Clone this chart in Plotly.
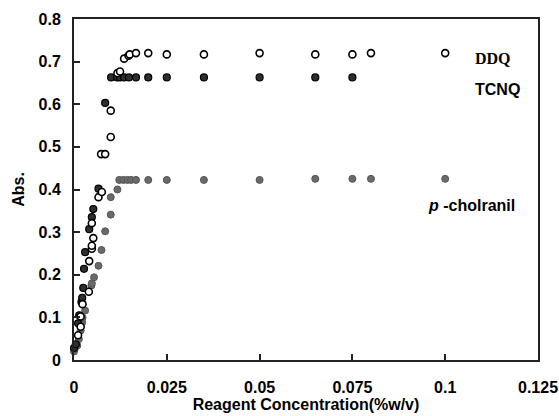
import plotly.graph_objects as go

# DDQ (open circles)
ddq_x = [0.0011, 0.0018, 0.0018, 0.0023, 0.0040, 0.0041, 0.0048, 0.0048, 0.0052, 0.0048,
         0.0066, 0.0075, 0.0073, 0.0084, 0.0099, 0.0099, 0.0117, 0.0124, 0.0135, 0.0147,
         0.0150, 0.0167, 0.020, 0.025, 0.035, 0.05, 0.065, 0.075, 0.08, 0.1]
ddq_y = [0.058, 0.078, 0.102, 0.131, 0.160, 0.232, 0.261, 0.268, 0.286, 0.321,
         0.382, 0.394, 0.483, 0.483, 0.523, 0.585, 0.673, 0.677, 0.707, 0.714,
         0.717, 0.720, 0.720, 0.717, 0.717, 0.720, 0.717, 0.717, 0.720, 0.720]

# TCNQ (filled dark)
tcnq_x = [0.0, 0.0005, 0.0011, 0.0014, 0.0020, 0.0022, 0.0025, 0.0027, 0.0030, 0.0041,
          0.0048, 0.0052, 0.0066, 0.0084, 0.0100, 0.0116, 0.0124, 0.0135, 0.0148, 0.0167,
          0.020, 0.025, 0.035, 0.05, 0.065, 0.075]
tcnq_y = [0.028, 0.037, 0.086, 0.105, 0.136, 0.146, 0.169, 0.214, 0.253, 0.307,
          0.335, 0.354, 0.402, 0.603, 0.663, 0.663, 0.663, 0.663, 0.663, 0.663,
          0.663, 0.663, 0.663, 0.663, 0.663, 0.663]

# p-chloranil (filled grey)
pchl_x = [0.0, 0.0002, 0.0009, 0.0013, 0.0018, 0.0022, 0.0023, 0.0030, 0.0047, 0.0048,
          0.0054, 0.0066, 0.0074, 0.0084, 0.0099, 0.0099, 0.0117, 0.0122, 0.0133, 0.0144,
          0.0154, 0.0167, 0.020, 0.025, 0.035, 0.05, 0.065, 0.075, 0.08, 0.1]
pchl_y = [0.020, 0.026, 0.034, 0.049, 0.069, 0.088, 0.099, 0.116, 0.175, 0.180,
          0.194, 0.221, 0.258, 0.302, 0.341, 0.382, 0.400, 0.4225, 0.4225, 0.4225,
          0.4225, 0.4225, 0.4225, 0.4225, 0.4225, 0.4225, 0.425, 0.425, 0.425, 0.425]

x_ticks = [0, 0.025, 0.05, 0.075, 0.1, 0.125]
x_labels = ["0", "0.025", "0.05", "0.075", "0.1", "0.125"]
y_ticks = [0, 0.1, 0.2, 0.3, 0.4, 0.5, 0.6, 0.7, 0.8]
y_labels = ["0", "0.1", "0.2", "0.3", "0.4", "0.5", "0.6", "0.7", "0.8"]

fig = go.Figure()
fig.add_trace(go.Scatter(x=pchl_x, y=pchl_y, mode="markers", cliponaxis=False,
                         marker=dict(size=7, color="#6a6a6a", line=dict(color="#555", width=1))))
fig.add_trace(go.Scatter(x=tcnq_x, y=tcnq_y, mode="markers", cliponaxis=False,
                         marker=dict(size=7, color="#2e2e2e", line=dict(color="#000", width=1.2))))
fig.add_trace(go.Scatter(x=ddq_x, y=ddq_y, mode="markers", cliponaxis=False,
                         marker=dict(size=7, color="white", line=dict(color="#000", width=1.6))))

tickfont = dict(family="Liberation Sans, Arial", size=16, color="black")
fig.update_xaxes(range=[0, 0.125], tickvals=x_ticks, ticktext=["<b>%s</b>" % t for t in x_labels],
                 showline=True, linecolor="#222", linewidth=2, mirror=True, automargin=False,
                 ticks="inside", ticklen=6, tickwidth=1.5, tickcolor="#222",
                 showgrid=False, zeroline=False, tickfont=tickfont, ticklabelstandoff=12,
                 title=dict(text="<b>Reagent Concentration(%w/v)</b>", font=tickfont, standoff=4))
fig.update_yaxes(range=[0, 0.8], tickvals=y_ticks, ticktext=["<b>%s</b>" % t for t in y_labels],
                 showline=True, linecolor="#222", linewidth=2, mirror=True, automargin=False,
                 ticks="inside", ticklen=6, tickwidth=1.5, tickcolor="#222",
                 showgrid=False, zeroline=False, tickfont=tickfont, ticklabelstandoff=8,
                 title=dict(text="<b>Abs.</b>", font=tickfont, standoff=10))

fig.add_annotation(x=0.1075, y=0.707, xref="x", yref="y", text="<b>DDQ</b>", showarrow=False,
                   xanchor="left", font=dict(family="Liberation Serif, Times New Roman", size=16, color="black"))
fig.add_annotation(x=0.1075, y=0.634, xref="x", yref="y", text="<b>TCNQ</b>", showarrow=False,
                   xanchor="left", font=dict(family="Liberation Sans, Arial", size=16, color="black"))
fig.add_annotation(x=0.0948, y=0.362, xref="x", yref="y", text="<b><i>p</i> -cholranil</b>", showarrow=False,
                   xanchor="left", font=dict(family="Liberation Sans, Arial", size=16, color="black"))

fig.update_layout(width=559, height=416, showlegend=False,
                  paper_bgcolor="white", plot_bgcolor="white",
                  margin=dict(l=74, r=21, t=19, b=56))

# drop the browser's default body margin so the figure fills the window exactly
fig.write_html("out.html", config={"displayModeBar": False},
               post_script="document.body.style.margin='0px';")
